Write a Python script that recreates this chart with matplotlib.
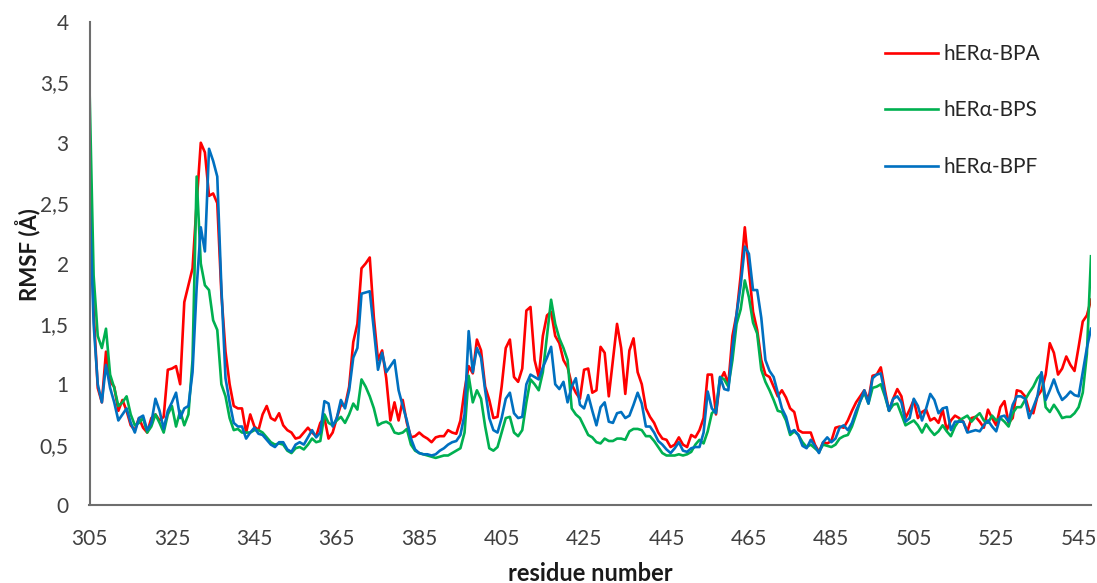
import numpy as np
import matplotlib
matplotlib.use("Agg")
import matplotlib.pyplot as plt

plt.rcParams['font.family'] = ['Lato', 'DejaVu Sans']

start_residue = 305
series_labels = ["hERα-BPA", "hERα-BPS", "hERα-BPF"]
x_ticks = list(range(305, 546, 20))
y_ticks = [0, 0.5, 1, 1.5, 2, 2.5, 3, 3.5, 4]
y_tick_labels = ["0", "0,5", "1", "1,5", "2", "2,5", "3", "3,5", "4"]

bpa = [
    2.9, 1.6, 0.97, 0.85, 1.27, 1.02, 0.98, 0.78, 0.87, 0.78,      # 305-314
    0.66, 0.62, 0.72, 0.64, 0.6, 0.72, 0.75, 0.7, 0.73, 1.12,      # 315-324
    1.13, 1.15, 1.0, 1.68, 1.82, 1.96, 2.5, 3.0, 2.92, 2.56,       # 325-334
    2.58, 2.5, 1.75, 1.27, 1.0, 0.82, 0.8, 0.8, 0.6, 0.75,         # 335-344
    0.65, 0.62, 0.75, 0.82, 0.72, 0.7, 0.76, 0.66, 0.62, 0.6,      # 345-354
    0.55, 0.56, 0.6, 0.64, 0.6, 0.57, 0.68, 0.72, 0.55, 0.6,       # 355-364
    0.72, 0.83, 0.82, 0.98, 1.35, 1.5, 1.96, 2.0, 2.05, 1.55,      # 365-374
    1.2, 1.28, 1.05, 0.7, 0.85, 0.7, 0.87, 0.68, 0.56, 0.57,       # 375-384
    0.6, 0.57, 0.55, 0.52, 0.56, 0.57, 0.57, 0.62, 0.6, 0.59, 0.7,  # 385-395
    0.95, 1.15, 1.09, 1.37, 1.28, 0.98, 0.87, 0.72, 0.73, 0.98,    # 396-405
    1.3, 1.37, 1.06, 1.02, 1.13, 1.61, 1.64, 1.2, 1.06, 1.4,       # 406-415
    1.57, 1.6, 1.4, 1.34, 1.2, 1.14, 1.0, 0.93, 0.88, 1.12,        # 416-425
    1.13, 0.93, 0.95, 1.31, 1.26, 0.9, 1.2, 1.5, 1.3, 0.92,        # 426-435
    1.28, 1.38, 1.1, 1.0, 0.8, 0.73, 0.68, 0.6, 0.55, 0.54,        # 436-445
    0.48, 0.5, 0.56, 0.5, 0.48, 0.58, 0.56, 0.62, 0.72, 1.08,      # 446-455
    1.08, 0.75, 1.03, 1.1, 1.0, 1.4, 1.58, 1.9, 2.3, 1.95,         # 456-465
    1.6, 1.45, 1.2, 1.08, 1.06, 0.98, 0.9, 0.95, 0.89, 0.8,        # 466-475
    0.77, 0.62, 0.6, 0.6, 0.6, 0.5, 0.44, 0.52, 0.51, 0.53,        # 476-485
    0.64, 0.65, 0.64, 0.7, 0.78, 0.85, 0.9, 0.95, 0.87, 1.07,      # 486-495
    1.08, 1.14, 0.95, 0.78, 0.88, 0.96, 0.9, 0.72, 0.79, 0.87,     # 496-505
    0.72, 0.77, 0.79, 0.7, 0.72, 0.68, 0.79, 0.62, 0.7, 0.74, 0.72,  # 506-516
    0.69, 0.61, 0.72, 0.73, 0.69, 0.64, 0.79, 0.72, 0.66, 0.81,    # 517-526
    0.86, 0.68, 0.72, 0.95, 0.94, 0.9, 0.78, 0.76, 0.9, 0.95,      # 527-536
    1.08, 1.34, 1.26, 1.08, 1.13, 1.23, 1.16, 1.11, 1.31, 1.52,    # 537-546
    1.57, 1.7,                                                     # 547-548
]

bps = [
    3.46, 1.9, 1.4, 1.3, 1.46, 1.08, 0.97, 0.82, 0.85, 0.9,        # 305-314
    0.75, 0.66, 0.68, 0.72, 0.6, 0.65, 0.75, 0.68, 0.6, 0.75,      # 315-324
    0.82, 0.65, 0.78, 0.66, 0.75, 1.2, 2.72, 2.0, 1.82, 1.78,      # 325-334
    1.53, 1.45, 1.0, 0.9, 0.72, 0.62, 0.63, 0.6, 0.6, 0.6,         # 335-344
    0.62, 0.62, 0.6, 0.56, 0.52, 0.5, 0.51, 0.5, 0.45, 0.43,       # 345-354
    0.47, 0.48, 0.46, 0.5, 0.55, 0.52, 0.53, 0.75, 0.68, 0.66,     # 355-364
    0.7, 0.73, 0.68, 0.75, 0.84, 0.79, 1.04, 0.98, 0.9, 0.8,       # 365-374
    0.66, 0.68, 0.69, 0.67, 0.6, 0.59, 0.6, 0.63, 0.5, 0.45,       # 375-384
    0.43, 0.42, 0.41, 0.4, 0.39, 0.4, 0.41, 0.41, 0.43, 0.45, 0.47,  # 385-395
    0.6, 1.07, 0.85, 0.95, 0.88, 0.65, 0.47, 0.45, 0.48, 0.6,      # 396-405
    0.72, 0.73, 0.6, 0.57, 0.62, 0.85, 1.04, 1.0, 0.95, 1.1,       # 406-415
    1.4, 1.7, 1.5, 1.38, 1.3, 1.2, 0.8, 0.75, 0.72, 0.65,          # 416-425
    0.58, 0.56, 0.52, 0.51, 0.55, 0.53, 0.53, 0.55, 0.55, 0.54,    # 426-435
    0.61, 0.63, 0.63, 0.62, 0.57, 0.57, 0.53, 0.48, 0.43, 0.41,    # 436-445
    0.41, 0.41, 0.42, 0.41, 0.42, 0.44, 0.5, 0.54, 0.51, 0.61,     # 446-455
    0.76, 0.79, 1.06, 1.04, 0.98, 1.2, 1.5, 1.62, 1.86, 1.72,      # 456-465
    1.51, 1.42, 1.12, 1.02, 0.95, 0.87, 0.78, 0.77, 0.7, 0.58,     # 466-475
    0.61, 0.58, 0.52, 0.48, 0.5, 0.47, 0.44, 0.5, 0.49, 0.48,      # 476-485
    0.5, 0.55, 0.57, 0.58, 0.65, 0.75, 0.86, 0.93, 0.84, 0.97,     # 486-495
    0.98, 1.0, 0.9, 0.78, 0.83, 0.84, 0.75, 0.66, 0.68, 0.7,       # 496-505
    0.66, 0.6, 0.67, 0.62, 0.58, 0.61, 0.66, 0.61, 0.57, 0.65, 0.7,  # 506-516
    0.72, 0.74, 0.69, 0.73, 0.76, 0.7, 0.68, 0.74, 0.7, 0.72,      # 517-526
    0.69, 0.65, 0.76, 0.81, 0.81, 0.87, 0.93, 0.98, 1.05, 1.09,    # 527-536
    0.81, 0.77, 0.83, 0.78, 0.72, 0.73, 0.73, 0.76, 0.81, 0.93,    # 537-546
    1.25, 2.06,                                                    # 547-548
]

bpf = [
    2.55, 1.5, 1.0, 0.85, 1.16, 0.97, 0.85, 0.7, 0.75, 0.8,        # 305-314
    0.68, 0.6, 0.72, 0.74, 0.62, 0.68, 0.88, 0.78, 0.63, 0.78,     # 315-324
    0.85, 0.93, 0.72, 0.8, 0.82, 1.1, 1.8, 2.3, 2.1, 2.95,         # 325-334
    2.85, 2.72, 1.8, 1.05, 0.85, 0.68, 0.65, 0.65, 0.55, 0.6,      # 335-344
    0.64, 0.59, 0.58, 0.54, 0.5, 0.48, 0.52, 0.52, 0.46, 0.44,     # 345-354
    0.5, 0.52, 0.5, 0.56, 0.62, 0.56, 0.6, 0.86, 0.84, 0.65,       # 355-364
    0.72, 0.87, 0.8, 0.95, 1.22, 1.3, 1.75, 1.76, 1.77, 1.45,      # 365-374
    1.12, 1.26, 1.1, 1.15, 1.2, 0.95, 0.82, 0.7, 0.55, 0.46,       # 375-384
    0.43, 0.42, 0.42, 0.41, 0.42, 0.45, 0.47, 0.5, 0.52, 0.53, 0.58,  # 385-395
    0.75, 1.44, 1.1, 1.3, 1.22, 0.95, 0.72, 0.62, 0.6, 0.72,       # 396-405
    0.88, 0.93, 0.76, 0.72, 0.73, 1.0, 1.08, 1.06, 1.04, 1.14,     # 406-415
    1.22, 1.31, 1.0, 0.96, 1.02, 0.85, 0.98, 1.05, 0.83, 0.8,      # 416-425
    0.91, 0.78, 0.66, 0.81, 0.85, 0.69, 0.68, 0.76, 0.77, 0.72,    # 426-435
    0.74, 0.83, 0.93, 0.84, 0.65, 0.65, 0.6, 0.53, 0.5, 0.46,      # 436-445
    0.43, 0.47, 0.52, 0.45, 0.44, 0.47, 0.48, 0.48, 0.6, 0.94,     # 446-455
    0.8, 0.76, 1.06, 0.96, 0.95, 1.3, 1.58, 1.82, 2.14, 2.08,      # 456-465
    1.78, 1.78, 1.55, 1.2, 1.11, 1.06, 0.93, 0.8, 0.73, 0.6,       # 466-475
    0.62, 0.58, 0.49, 0.47, 0.54, 0.49, 0.43, 0.52, 0.56, 0.52,    # 476-485
    0.55, 0.64, 0.66, 0.62, 0.68, 0.78, 0.86, 0.95, 0.84, 1.05,    # 486-495
    1.08, 1.09, 0.92, 0.78, 0.88, 0.9, 0.85, 0.69, 0.72, 0.88,     # 496-505
    0.82, 0.7, 0.8, 0.92, 0.87, 0.76, 0.8, 0.81, 0.62, 0.69, 0.69,  # 506-516
    0.69, 0.6, 0.61, 0.62, 0.61, 0.66, 0.7, 0.65, 0.61, 0.73,      # 517-526
    0.74, 0.69, 0.83, 0.9, 0.9, 0.88, 0.72, 0.81, 0.9, 1.1,        # 527-536
    0.87, 0.95, 1.04, 0.94, 0.87, 0.9, 0.94, 0.91, 0.9, 1.1,       # 537-546
    1.3, 1.46,                                                     # 547-548
]

colors = ["#FF0000", "#00B050", "#0070C0"]

W, H = 1097, 583
fig = plt.figure(figsize=(W / 100, H / 100), dpi=100)
ax = fig.add_axes([89.5 / W, 1 - 505 / H, (1091 - 89.5) / W, (505 - 22) / H])

last = start_residue
for vals, lab, col in zip([bpa, bps, bpf], series_labels, colors):
    xs = np.arange(start_residue, start_residue + len(vals))
    last = max(last, xs[-1])
    ax.plot(xs, vals, color=col, lw=1.9, label=lab, solid_joinstyle='round')

ax.set_xlim(start_residue, last)
ax.set_ylim(0, 4)
ax.set_xticks(x_ticks)
ax.set_xticklabels([str(t) for t in x_ticks])
ax.set_yticks(y_ticks)
ax.set_yticklabels(y_tick_labels)
ax.tick_params(axis='both', length=0, labelsize=15, colors='#404040')
ax.tick_params(axis='x', pad=17)
ax.tick_params(axis='y', pad=15)

for s in ['top', 'right']:
    ax.spines[s].set_visible(False)
for s in ['left', 'bottom']:
    ax.spines[s].set_color('#6e6e6e')
    ax.spines[s].set_linewidth(1.5)

fig.text(28 / W, 1 - 255 / H, "RMSF (Å)", fontsize=16, fontweight='bold',
         color='#1a1a1a', rotation=90, ha='center', va='center')
fig.text(590 / W, 1 - 581 / H, "residue number", fontsize=17, fontweight='bold',
         color='#1a1a1a', ha='center', va='baseline')

leg = ax.legend(loc='upper left', bbox_to_anchor=(885 / W, 1 - 44 / H),
                bbox_transform=fig.transFigure, frameon=False, fontsize=15,
                handlelength=2.55, handletextpad=0.25, labelspacing=1.75,
                borderpad=0, borderaxespad=0)
for t in leg.get_texts():
    t.set_color('#262626')

fig.savefig("out.png", dpi=100)
